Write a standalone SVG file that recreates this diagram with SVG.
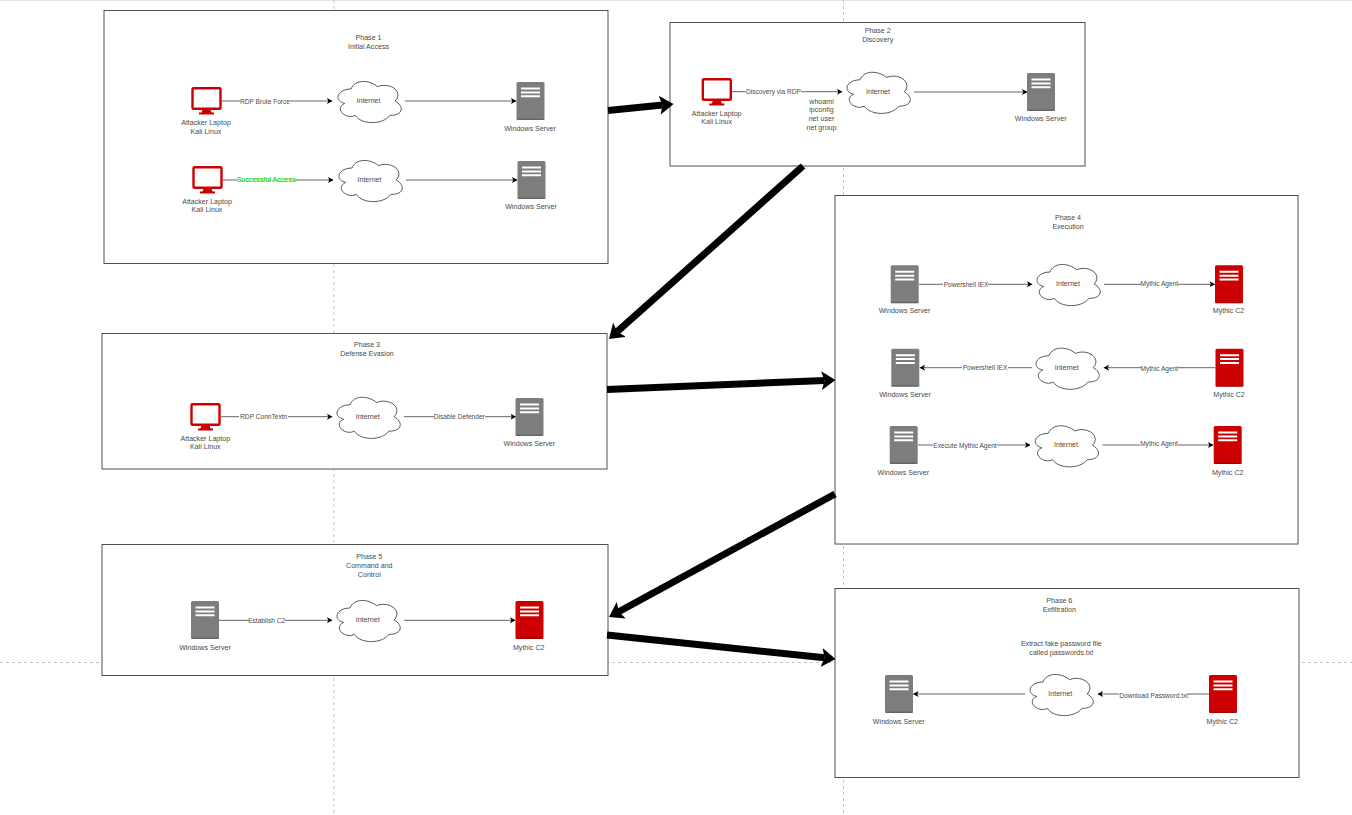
<svg xmlns="http://www.w3.org/2000/svg" width="1352" height="815" viewBox="0 0 1352 815">
<style>
text{font-family:"Liberation Sans",Arial,sans-serif;font-size:7.1px;fill:#4a4a4a;text-anchor:middle}
.el{font-size:6.6px}
.box{fill:#fff;stroke:#4f4f4f;stroke-width:1}
.guide{fill:none;stroke:#c4c4c4;stroke-width:1;stroke-dasharray:3 3}
.cn{fill:none;stroke:#666;stroke-width:1;marker-end:url(#ah)}
.big{fill:none;stroke:#000;stroke-width:7;marker-end:url(#bh)}
.gray{fill:#7d7d7d}
.red{fill:#c00}
.green{font-size:7.1px;fill:#00e000;stroke:#00e000;stroke-width:.2}
</style>
<defs>
<marker id="ah" markerUnits="userSpaceOnUse" markerWidth="7" markerHeight="7" refX="5" refY="3" orient="auto" viewBox="0 0 7 6"><path d="M0 0L5.500 3 0 6 1.300 3z" fill="#000"/></marker>
<marker id="bh" markerUnits="userSpaceOnUse" markerWidth="15" markerHeight="19" refX="3" refY="9.500" orient="auto" viewBox="0 0 15 19"><path d="M0 0L14 9.500 0 19 3 9.500z" fill="#000"/></marker>
<g id="cloud"><path transform="translate(-36.600,-25) scale(.967,1)" fill="#fff" stroke="#555" stroke-width="1" d="M18.250 12C3.650 12 0 24 11.680 26.400C0 31.680 13.140 43.200 22.630 38.400C29.200 48 51.100 48 58.400 38.400C73 38.400 73 28.800 63.875 24C73 14.400 58.400 4.800 45.625 9.600C36.500 2.400 21.900 2.400 18.250 12Z"/></g>
<g id="server"><rect x="-14" y="-19" width="28" height="38" rx="1.500"/><rect x="-14" y="17.600" width="28" height="1.400" fill="#000" fill-opacity=".2"/><path d="M-9.500-13.500h19v2h-19zM-9.500-9.600h19v2h-19zM-9.500-5.700h19v2h-19z" fill="#fff"/></g>
<g id="monitor"><rect x="-14" y="-12.700" width="28" height="20.500" rx="1" fill="#fff" stroke="#c00" stroke-width="2.400"/><path d="M-4 8.500H4L5 11.500H-5zM-7.500 11.500H7.500V13.500H-7.500z" fill="#c00"/></g>
</defs>
<rect width="1352" height="1" fill="#e3e3e3"/>
<g id="guides">
<path class="guide" d="M334 0V815M843.500 0V815M0 662.500H1352"/>
</g>

<g id="phase1"><rect class="box" x="104" y="10.500" width="504" height="253"/><text x="368.500" y="39.500">Phase 1</text><text x="368.500" y="49">Initial Access</text></g>
<g id="phase2"><rect class="box" x="670" y="22.500" width="415" height="143.500"/><text x="877.700" y="33">Phase 2</text><text x="877.700" y="42">Discovery</text></g>
<g id="phase3"><rect class="box" x="102" y="333.500" width="505" height="135.500"/><text x="367" y="347.300">Phase 3</text><text x="367" y="356">Defense Evasion</text></g>
<g id="phase4"><rect class="box" x="835" y="195.500" width="463" height="348.500"/><text x="1068" y="220">Phase 4</text><text x="1068" y="229.300">Execution</text></g>
<g id="phase5"><rect class="box" x="102" y="544.500" width="506" height="131"/><text x="369.300" y="559.300">Phase 5</text><text x="369.300" y="568">Command and</text><text x="369.300" y="577">Control</text></g>
<g id="phase6"><rect class="box" x="835" y="588.500" width="464" height="189"/><text x="1059.300" y="603">Phase 6</text><text x="1059.300" y="612">Exfiltration</text><text x="1061.300" y="646">Extract fake password file</text><text x="1061.300" y="655">called passwords.txt</text></g>

<g id="p1-laptop-1"><use href="#monitor" x="206.500" y="101"/><text x="206" y="125">Attacker Laptop</text><text x="206" y="134">Kali Linux</text></g>
<g id="p1-cloud-1"><use href="#cloud" x="370" y="102"/><text x="368.500" y="103">Internet</text></g>
<g id="p1-server-1"><use href="#server" class="gray" x="530.500" y="101"/><text x="530" y="131">Windows Server</text></g>
<g id="p1-laptop-2"><use href="#monitor" x="207.500" y="180"/><text x="207" y="204">Attacker Laptop</text><text x="207" y="212">Kali Linux</text></g>
<g id="p1-cloud-2"><use href="#cloud" x="371" y="181"/><text x="369.500" y="182">Internet</text></g>
<g id="p1-server-2"><use href="#server" class="gray" x="531.500" y="180"/><text x="531" y="209">Windows Server</text></g>

<g id="p2-laptop"><use href="#monitor" x="716.800" y="92"/><text x="716.700" y="116">Attacker Laptop</text><text x="716.700" y="124.200">Kali Linux</text></g>
<g id="p2-cloud"><use href="#cloud" x="879" y="92.800"/><text x="878" y="94.200">Internet</text></g>
<g id="p2-server"><use href="#server" class="gray" x="1041" y="92"/><text x="1040.700" y="120.800">Windows Server</text></g>
<g id="p2-commands"><text x="821.500" y="103.800">whoami</text><text x="821.500" y="112.200">ipconfig</text><text x="821.500" y="121.200">net user</text><text x="821.500" y="129.800">net group</text></g>

<g id="p3-laptop"><use href="#monitor" x="205.500" y="417"/><text x="205.300" y="441">Attacker Laptop</text><text x="205.300" y="449">Kali Linux</text></g>
<g id="p3-cloud"><use href="#cloud" x="369" y="417.800"/><text x="367.700" y="419.200">Internet</text></g>
<g id="p3-server"><use href="#server" class="gray" x="529.500" y="417"/><text x="529.300" y="445.800">Windows Server</text></g>

<g id="p4-server-1"><use href="#server" class="gray" x="904.700" y="284.300"/><text x="904.500" y="312.800">Windows Server</text></g>
<g id="p4-cloud-1"><use href="#cloud" x="1069" y="285"/><text x="1068" y="286.200">Internet</text></g>
<g id="p4-c2-1"><use href="#server" class="red" x="1229" y="284.300"/><text x="1228.500" y="312.800">Mythic C2</text></g>
<g id="p4-server-2"><use href="#server" class="gray" x="905.300" y="367.700"/><text x="905" y="396.800">Windows Server</text></g>
<g id="p4-cloud-2"><use href="#cloud" x="1068" y="368.700"/><text x="1066.700" y="370.200">Internet</text></g>
<g id="p4-c2-2"><use href="#server" class="red" x="1229.500" y="367.700"/><text x="1229" y="396.800">Mythic C2</text></g>
<g id="p4-server-3"><use href="#server" class="gray" x="903.700" y="445"/><text x="903.300" y="474.800">Windows Server</text></g>
<g id="p4-cloud-3"><use href="#cloud" x="1067.300" y="446.300"/><text x="1066" y="447.200">Internet</text></g>
<g id="p4-c2-3"><use href="#server" class="red" x="1227.700" y="445"/><text x="1227.700" y="474.800">Mythic C2</text></g>

<g id="p5-server"><use href="#server" class="gray" x="205" y="620"/><text x="205" y="649.800">Windows Server</text></g>
<g id="p5-cloud"><use href="#cloud" x="369" y="621"/><text x="367.700" y="622.200">Internet</text></g>
<g id="p5-c2"><use href="#server" class="red" x="529.500" y="620"/><text x="528.700" y="649.800">Mythic C2</text></g>

<g id="p6-server"><use href="#server" class="gray" x="899" y="694"/><text x="898.700" y="723.800">Windows Server</text></g>
<g id="p6-cloud"><use href="#cloud" x="1062" y="695"/><text x="1060.300" y="695.800">Internet</text></g>
<g id="p6-c2"><use href="#server" class="red" x="1223" y="694"/><text x="1222.300" y="723.800">Mythic C2</text></g>

<g id="connectors">
<path class="big" d="M608 110.500L662.600 105.100"/>
<path class="big" d="M803 166L617.200 331.700"/>
<path class="big" d="M607 389.500L824.500 380.500"/>
<path class="big" d="M835 494L618.700 611.700"/>
<path class="big" d="M607 635L824.600 657.800"/>

<path class="cn" d="M222 101H240M290 101H332"/><text class="el" x="265" y="103.500">RDP Brute Force</text>
<path class="cn" d="M405 101H516"/>
<path class="cn" d="M223 180H237M295 180H333"/><text class="el green" x="266" y="181.800">Successful Access</text>
<path class="cn" d="M406 180H517"/>
<path class="cn" d="M732 91.700H746M801 91.700H842"/><text class="el" x="773.500" y="94">Discovery via RDP</text>
<path class="cn" d="M914 92H1027"/>
<path class="cn" d="M221 416.700H239M288 416.700H332"/><text class="el" x="263.700" y="419.200">RDP ConnTextn</text>
<path class="cn" d="M404 416.700H434M485 416.700H515.500"/><text class="el" x="459.300" y="419.200">Disable Defender</text>
<path class="cn" d="M919 284.300H943M988 284.300H1032"/><text class="el" x="966" y="286.500">Powershell IEX</text>
<path class="cn" d="M1104 284.300H1141M1178 284.300H1214.500"/><text class="el" x="1159.300" y="286.200">Mythic Agent</text>
<path class="cn" d="M1032 367.700H1008M962 367.700H920"/><text class="el" x="985" y="370.200">Powershell IEX</text>
<path class="cn" d="M1215.500 367.700H1178M1141 367.700H1104"/><text class="el" x="1159.300" y="370.800">Mythic Agent</text>
<path class="cn" d="M918 445H933M997 445H1030"/><text class="el" x="965" y="447.800">Execute Mythic Agent</text>
<path class="cn" d="M1102.500 445H1140M1178 445H1213"/><text class="el" x="1159" y="445.800">Mythic Agent</text>
<path class="cn" d="M219 620.300H249M285 620.300H332"/><text class="el" x="266.700" y="623">Establish C2</text>
<path class="cn" d="M404 620.300H515"/>
<path class="cn" d="M1025 694H913.500"/>
<path class="cn" d="M1209 694H1188M1119 694H1098"/><text class="el" x="1153.700" y="697.800">Download Password.txt</text>
</g>
</svg>
